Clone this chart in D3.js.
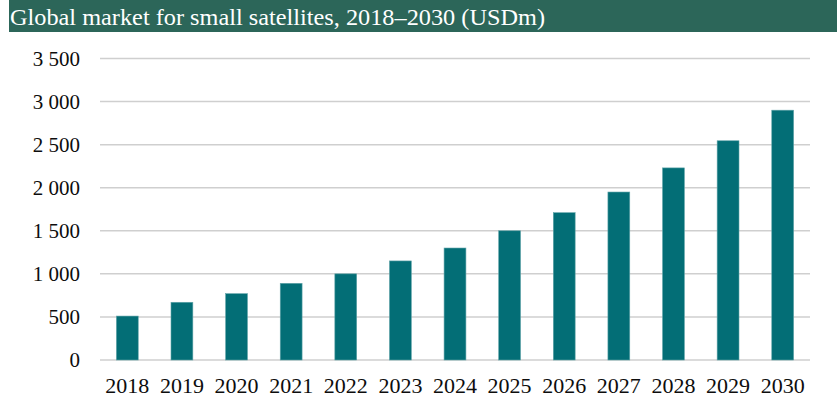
<!DOCTYPE html>
<html>
<head>
<meta charset="utf-8">
<script src="https://cdn.jsdelivr.net/npm/d3@7"></script>
<style>
  html, body { margin: 0; padding: 0; background: #fff; }
  svg { display: block; }
</style>
</head>
<body>
<svg id="chart" width="839" height="398"></svg>
<script>
// Small-satellite market size by year (USD millions)
const years = ["2018","2019","2020","2021","2022","2023","2024","2025","2026","2027","2028","2029","2030"];
const marketValues = [510, 670, 770, 890, 1000, 1150, 1300, 1500, 1710, 1950, 2230, 2545, 2900];
const yTicks = [0, 500, 1000, 1500, 2000, 2500, 3000, 3500];
const titleText = "Global market for small satellites, 2018\u20132030 (USDm)";

const svg = d3.select("#chart");
const plot = { left: 100, right: 810, top: 58.5, bottom: 360 };
const serif = "'Liberation Serif', 'DejaVu Serif', serif";

// Title banner
svg.append("rect")
  .attr("x", 9).attr("y", 0)
  .attr("width", 828).attr("height", 32)
  .attr("fill", "#2c6659");
svg.append("text")
  .attr("x", 10).attr("y", 25)
  .attr("fill", "#ffffff")
  .attr("font-family", serif)
  .attr("font-size", 23)
  .attr("textLength", 535)
  .attr("lengthAdjust", "spacingAndGlyphs")
  .text(titleText);

const x = d3.scaleBand()
  .domain(years)
  .range([plot.left, plot.right])
  .paddingInner(0.6)
  .paddingOuter(0.3);

const y = d3.scaleLinear()
  .domain([0, 3500])
  .range([plot.bottom, plot.top]);

// Horizontal gridlines
svg.append("g")
  .selectAll("line")
  .data(yTicks)
  .join("line")
  .attr("x1", plot.left).attr("x2", plot.right)
  .attr("y1", d => y(d)).attr("y2", d => y(d))
  .attr("stroke", "#cfcfcf")
  .attr("stroke-width", 1.5);

// Y axis labels (space as thousands separator)
const fmt = v => d3.format(",")(v).replace(/,/g, " ");
const yAxis = d3.axisLeft(y).tickValues(yTicks).tickFormat(fmt).tickSize(0).tickPadding(0);
const yG = svg.append("g")
  .attr("transform", "translate(80,0)")
  .call(yAxis);
yG.select(".domain").remove();
yG.selectAll("text")
  .attr("fill", "#0d0d0d")
  .attr("font-family", serif)
  .attr("font-size", 21);

// Bars
svg.append("g")
  .selectAll("rect")
  .data(years.map((yr, i) => ({ yr, v: marketValues[i] })))
  .join("rect")
  .attr("x", d => x(d.yr))
  .attr("y", d => y(d.v))
  .attr("width", x.bandwidth())
  .attr("height", d => y(0) - y(d.v))
  .attr("fill", "#036e76")
  .attr("stroke", "#5fa3a8")
  .attr("stroke-width", 0.6);

// X axis labels
const xAxis = d3.axisBottom(x).tickSize(0).tickPadding(0);
const xG = svg.append("g")
  .attr("transform", `translate(0,${plot.bottom})`)
  .call(xAxis);
xG.select(".domain").remove();
xG.selectAll("text")
  .attr("dy", null)
  .attr("y", 32.5)
  .attr("fill", "#0d0d0d")
  .attr("font-family", serif)
  .attr("font-size", 22);
</script>
</body>
</html>
